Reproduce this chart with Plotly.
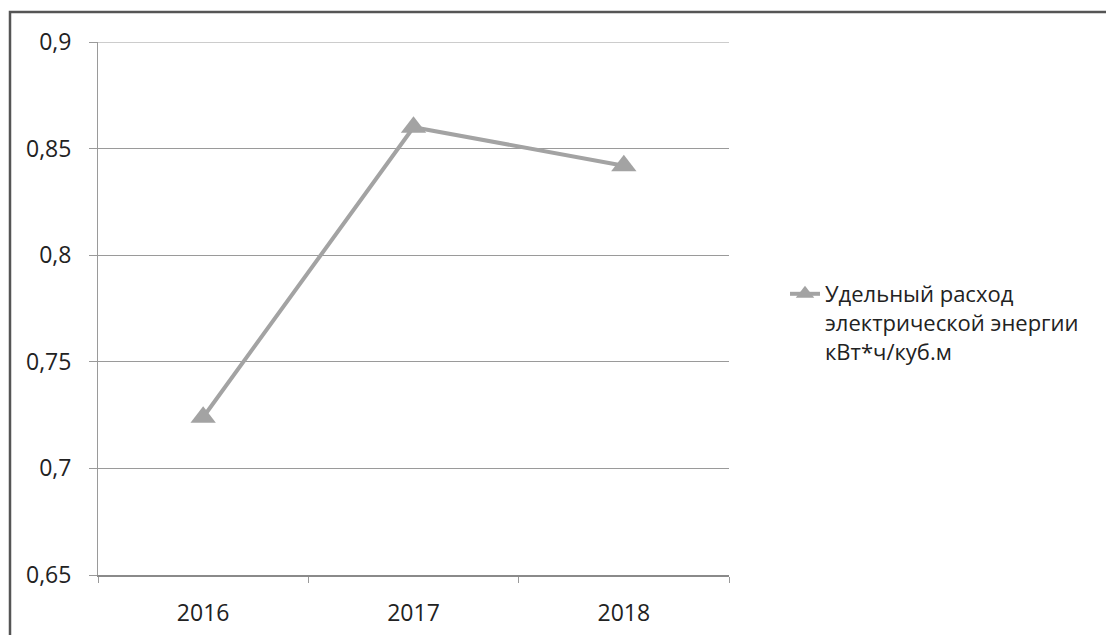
import plotly.graph_objects as go

# Specific electricity consumption by year
years = ["2016", "2017", "2018"]
consumption = [0.724, 0.860, 0.842]
series_name = "Удельный расход<br>электрической энергии<br>кВт*ч/куб.м"

y_tick_values = [0.65, 0.7, 0.75, 0.8, 0.85, 0.9]
y_tick_labels = ["0,65", "0,7", "0,75", "0,8", "0,85", "0,9"]

W, H = 1106, 635
L, R, T, B = 98, 377, 42, 60
pw, ph = W - L - R, H - T - B

def px_x(x):
    return (x - L) / pw

def px_y(y):
    return (H - B - y) / ph

line_grey = "#a3a3a3"
grid_grey = "#9a9a9a"
text_col = "#222222"
font_family = "Open Sans, Lato, sans-serif"

fig = go.Figure()
fig.add_trace(go.Scatter(
    x=years,
    y=consumption,
    mode="lines+markers",
    name=series_name,
    line=dict(color=line_grey, width=4),
    marker=dict(symbol="triangle-up", size=22, color=line_grey),
    showlegend=True,
))

fig.update_layout(
    width=W,
    height=H,
    margin=dict(l=L, r=R, t=T, b=B, pad=0, autoexpand=False),
    paper_bgcolor="white",
    plot_bgcolor="white",
    font=dict(family=font_family, color=text_col, size=23),
    xaxis=dict(
        type="category",
        range=[-0.5, 2.5],
        tickson="boundaries",
        ticks="outside",
        ticklen=6,
        tickcolor=grid_grey,
        ticklabelstandoff=17,
        showgrid=False,
        showline=True,
        linecolor="#8a8a8a",
        linewidth=1.5,
        zeroline=False,
        automargin=False,
        tickfont=dict(size=23),
    ),
    yaxis=dict(
        range=[0.65, 0.9],
        tickvals=y_tick_values,
        ticktext=y_tick_labels,
        ticks="outside",
        ticklen=8,
        tickcolor=grid_grey,
        ticklabelstandoff=13,
        showgrid=True,
        gridcolor=grid_grey,
        gridwidth=1,
        showline=True,
        linecolor=grid_grey,
        linewidth=1,
        zeroline=False,
        automargin=False,
        tickfont=dict(size=23),
    ),
    legend=dict(
        x=px_x(785),
        y=px_y(273),
        xanchor="left",
        yanchor="top",
        valign="top",
        bgcolor="rgba(0,0,0,0)",
        font=dict(size=22, color=text_col),
    ),
    shapes=[
        # top gridline at the upper end of the value axis
        dict(
            type="line",
            xref="paper", yref="y",
            x0=px_x(90), x1=1,
            y0=max(y_tick_values), y1=max(y_tick_values),
            line=dict(color=grid_grey, width=1),
            layer="below",
        ),
        # outer chart frame
        dict(
            type="rect",
            xref="paper", yref="paper",
            x0=px_x(10), x1=px_x(1120),
            y0=px_y(650), y1=px_y(12),
            line=dict(color="#555555", width=2.5),
            fillcolor="rgba(0,0,0,0)",
            layer="below",
        ),
    ],
)

fig.write_html("out.html")
